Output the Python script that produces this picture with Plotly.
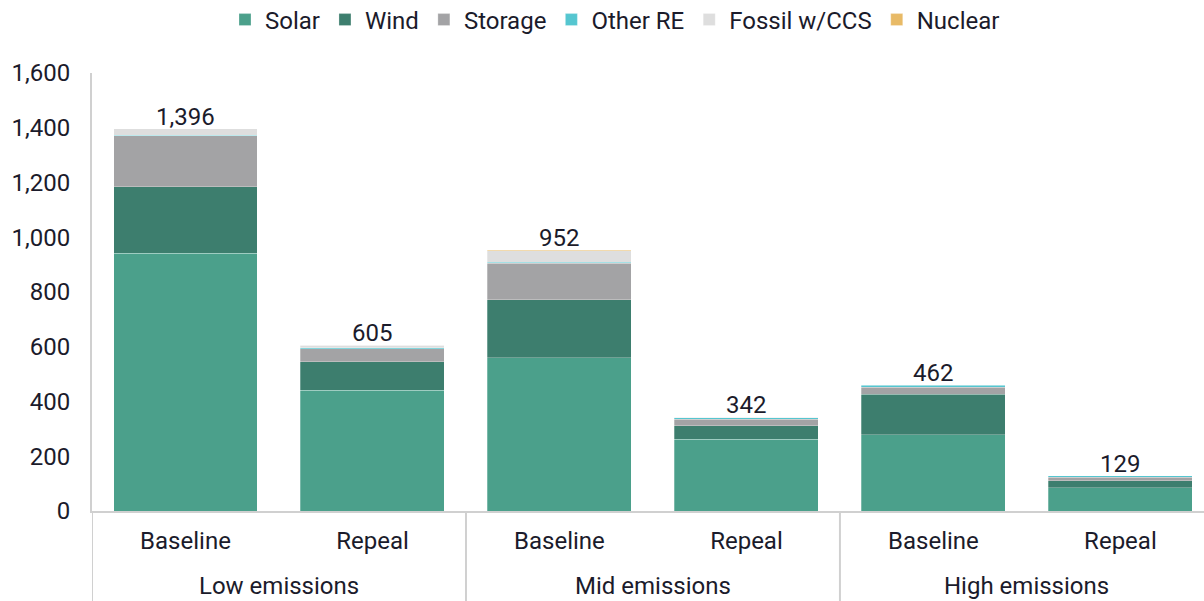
import plotly.graph_objects as go

groups = ["Low emissions", "Mid emissions", "High emissions"]
scenarios = ["Low emissions", "Low emissions", "Mid emissions", "Mid emissions", "High emissions", "High emissions"]
cases = ["Baseline", "Repeal", "Baseline", "Repeal", "Baseline", "Repeal"]

solar = [941, 442, 559, 262, 278, 85]
wind = [244, 103, 212, 49, 149, 25]
storage = [186, 47, 134, 25, 25, 13]
other_re = [2, 5, 3, 5, 7, 5]
fossil_ccs = [23, 8, 43, 1, 3, 1]
nuclear = [0, 0, 1, 0, 0, 0]
totals = [1396, 605, 952, 342, 462, 129]

series = [
    ("Solar", solar, "#4BA08B"),
    ("Wind", wind, "#3D7E6E"),
    ("Storage", storage, "#A3A3A5"),
    ("Other RE", other_re, "#55C6D0"),
    ("Fossil w/CCS", fossil_ccs, "#DEDEDE"),
    ("Nuclear", nuclear, "#E8BA66"),
]

TXT = "#1B1B2B"
FONT = "Roboto"
FS = 24
W, H = 1204, 601
ML, MR, MT, MB = 92, 0, 73, 90
PH = H - MT - MB
PW = W - ML - MR
LINE = "#D0D0D0"

keys = [f"{s}|{c}" for s, c in zip(scenarios, cases)]

fig = go.Figure()
for name, vals, col in series:
    fig.add_trace(go.Bar(
        x=keys, y=vals, name=name,
        marker=dict(color=col, line=dict(color="rgba(255,255,255,0.45)", width=0.6)),
        hovertemplate="%{y}<extra>" + name + "</extra>",
    ))

for k, t in zip(keys, totals):
    fig.add_annotation(
        x=k, y=t, text=f"{t:,}", showarrow=False,
        yanchor="bottom", yshift=-4, font=dict(family=FONT, size=FS, color=TXT),
    )

# group labels and dividers
x_lo, x_hi = -0.5, 5.447
span = x_hi - x_lo
for gi, g in enumerate(groups):
    center = 2 * gi + 0.5
    fig.add_annotation(
        x=(center - x_lo) / span, xref="paper", y=-(586 - (H - MB)) / PH, yref="paper",
        text=g, showarrow=False, xanchor="center", yanchor="middle",
        font=dict(family=FONT, size=FS, color=TXT),
    )
    fig.add_shape(
        type="line", xref="x", yref="paper", x0=2 * gi - 0.5, x1=2 * gi - 0.5,
        y0=0, y1=-MB / PH, line=dict(color=LINE, width=2),
    )

fig.update_layout(
    width=W, height=H,
    barmode="stack", bargap=0.23,
    paper_bgcolor="white", plot_bgcolor="white",
    margin=dict(l=ML, r=MR, t=MT, b=MB, autoexpand=False),
    font=dict(family=FONT, size=FS, color=TXT),
    showlegend=True,
    legend=dict(
        orientation="h", x=(615 - ML) / PW, xanchor="center", y=1 + (MT - 20) / PH, yanchor="middle",
        font=dict(family=FONT, size=FS, color=TXT),
        itemwidth=30, traceorder="normal", itemclick=False,
    ),
    xaxis=dict(
        type="category", range=[x_lo, x_hi],
        tickvals=keys, ticktext=cases,
        showline=True, linecolor=LINE, linewidth=2,
        ticks="", ticklabelstandoff=7, automargin=False,
        tickfont=dict(family=FONT, size=FS, color=TXT),
    ),
    yaxis=dict(
        range=[0, 1600], tickvals=[0, 200, 400, 600, 800, 1000, 1200, 1400, 1600],
        tickformat=",", showgrid=False, zeroline=False,
        showline=True, linecolor=LINE, linewidth=2,
        ticks="", ticklabelstandoff=15, automargin=False,
        tickfont=dict(family=FONT, size=FS, color=TXT),
    ),
)

fig.write_html(
    "out.html",
    config={"displayModeBar": False},
    post_script="document.body.style.margin='0';document.body.style.padding='0';",
)
